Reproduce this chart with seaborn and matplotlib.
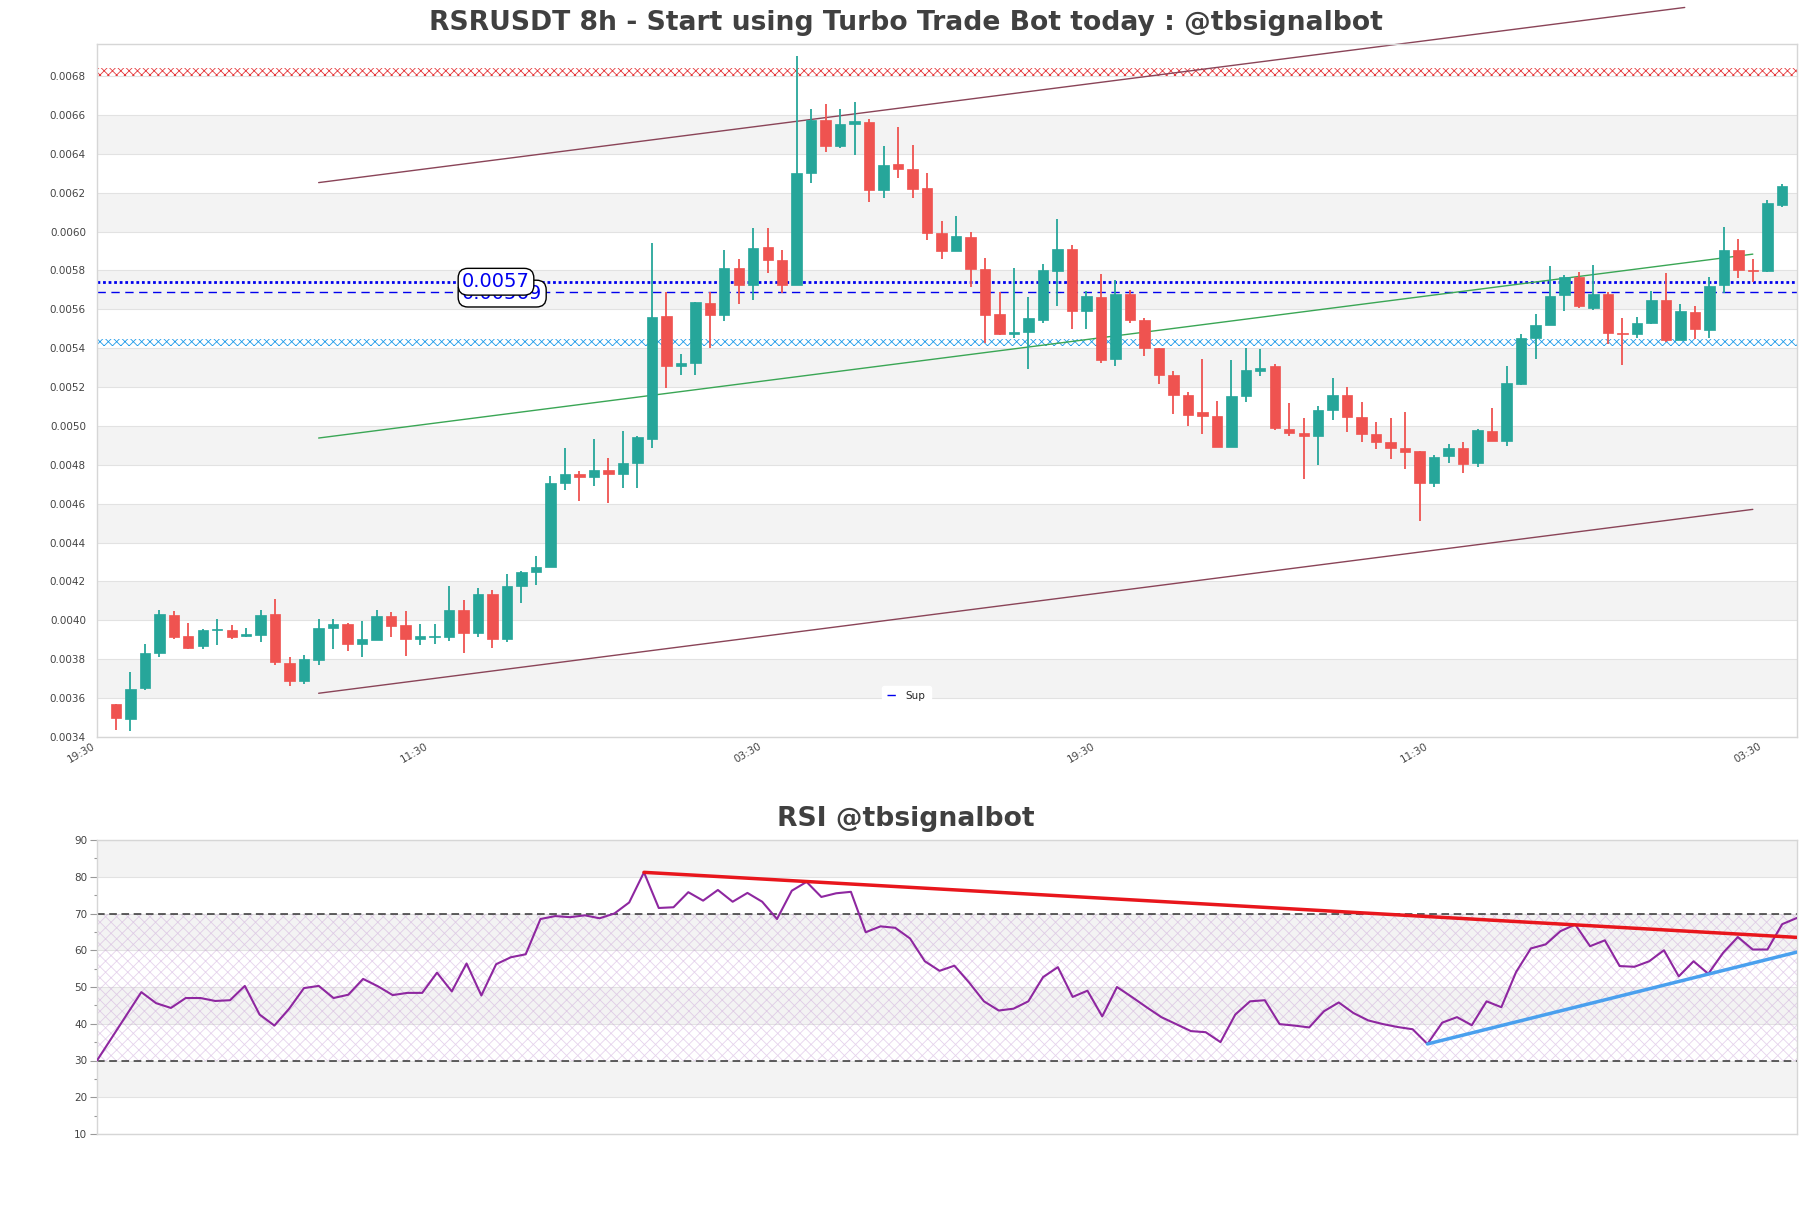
import numpy as np
import pandas as pd
import matplotlib
matplotlib.use("Agg")
import matplotlib.pyplot as plt
import seaborn as sns

# ---------------- data ----------------
opens = [0.003568, 0.003492, 0.003653, 0.003832, 0.004027, 0.003921, 0.003866, 0.003950, 0.003951, 0.003919,
         0.003924, 0.004034, 0.003783, 0.003687, 0.003795, 0.003960, 0.003979, 0.003878, 0.003898, 0.004025,
         0.003974, 0.003905, 0.003914, 0.003917, 0.004052, 0.003933, 0.004135, 0.003905, 0.004176, 0.004250,
         0.004272, 0.004709, 0.004755, 0.004736, 0.004771, 0.004755, 0.004812, 0.004931, 0.005567, 0.005310,
         0.005324, 0.005634, 0.005570, 0.005815, 0.005724, 0.005921, 0.005852, 0.005724, 0.006300, 0.006575,
         0.006442, 0.006555, 0.006564, 0.006213, 0.006348, 0.006323, 0.006224, 0.005995, 0.005898, 0.005972,
         0.005806, 0.005577, 0.005471, 0.005483, 0.005547, 0.005797, 0.005912, 0.005591, 0.005666, 0.005347,
         0.005680, 0.005547, 0.005402, 0.005260, 0.005157, 0.005072, 0.005049, 0.004893, 0.005152, 0.005283,
         0.005306, 0.004984, 0.004966, 0.004948, 0.005081, 0.005161, 0.005046, 0.004961, 0.004920, 0.004888,
         0.004870, 0.004709, 0.004846, 0.004888, 0.004807, 0.004973, 0.004922, 0.005218, 0.005453, 0.005519,
         0.005673, 0.005765, 0.005609, 0.005678, 0.005480, 0.005471, 0.005531, 0.005646, 0.005443, 0.005588,
         0.005494, 0.005724, 0.005903, 0.005804, 0.005797, 0.006139]
highs = [0.003572, 0.003733, 0.003878, 0.004054, 0.004047, 0.003985, 0.003956, 0.004006, 0.003974, 0.003963,
         0.004054, 0.004112, 0.003809, 0.003820, 0.004006, 0.004006, 0.003985, 0.003997, 0.004054, 0.004043,
         0.004047, 0.003983, 0.003979, 0.004176, 0.004105, 0.004169, 0.004158, 0.004236, 0.004254, 0.004330,
         0.004743, 0.004888, 0.004766, 0.004934, 0.004835, 0.004973, 0.004950, 0.005942, 0.005691, 0.005368,
         0.005639, 0.005689, 0.005903, 0.005861, 0.006018, 0.006018, 0.005903, 0.006901, 0.006633, 0.006654,
         0.006633, 0.006665, 0.006580, 0.006438, 0.006538, 0.006447, 0.006302, 0.006057, 0.006080, 0.005999,
         0.005864, 0.005689, 0.005815, 0.005662, 0.005834, 0.006063, 0.005930, 0.005696, 0.005783, 0.005753,
         0.005701, 0.005554, 0.005402, 0.005283, 0.005173, 0.005347, 0.005131, 0.005338, 0.005402, 0.005398,
         0.005317, 0.005117, 0.005042, 0.005104, 0.005248, 0.005198, 0.005122, 0.005023, 0.005042, 0.005072,
         0.004870, 0.004853, 0.004908, 0.004915, 0.004984, 0.005095, 0.005306, 0.005473, 0.005577, 0.005822,
         0.005776, 0.005792, 0.005829, 0.005689, 0.005558, 0.005563, 0.005696, 0.005788, 0.005627, 0.005616,
         0.005765, 0.006022, 0.005960, 0.005861, 0.006160, 0.006247]
lows = [0.003434, 0.003430, 0.003641, 0.003809, 0.003905, 0.003855, 0.003855, 0.003873, 0.003905, 0.003912,
        0.003889, 0.003772, 0.003664, 0.003671, 0.003772, 0.003855, 0.003841, 0.003813, 0.003898, 0.003917,
        0.003818, 0.003871, 0.003878, 0.003894, 0.003832, 0.003917, 0.003859, 0.003889, 0.004089, 0.004181,
        0.004272, 0.004670, 0.004612, 0.004690, 0.004603, 0.004679, 0.004679, 0.004888, 0.005196, 0.005264,
        0.005264, 0.005402, 0.005540, 0.005627, 0.005650, 0.005788, 0.005685, 0.005724, 0.006252, 0.006408,
        0.006431, 0.006396, 0.006151, 0.006174, 0.006275, 0.006174, 0.005958, 0.005857, 0.005898, 0.005714,
        0.005425, 0.005467, 0.005455, 0.005294, 0.005528, 0.005616, 0.005500, 0.005500, 0.005322, 0.005306,
        0.005530, 0.005359, 0.005218, 0.005062, 0.005000, 0.004957, 0.004893, 0.004893, 0.005122, 0.005255,
        0.004977, 0.004948, 0.004727, 0.004801, 0.005030, 0.004968, 0.004915, 0.004881, 0.004828, 0.004778,
        0.004509, 0.004686, 0.004807, 0.004759, 0.004789, 0.004922, 0.004897, 0.005209, 0.005345, 0.005519,
        0.005593, 0.005609, 0.005597, 0.005420, 0.005313, 0.005455, 0.005524, 0.005432, 0.005443, 0.005448,
        0.005455, 0.005685, 0.005761, 0.005742, 0.005792, 0.006125]
closes = [0.003496, 0.003648, 0.003832, 0.004034, 0.003917, 0.003859, 0.003951, 0.003952, 0.003917, 0.003928,
          0.004027, 0.003786, 0.003687, 0.003802, 0.003960, 0.003979, 0.003878, 0.003905, 0.004025, 0.003969,
          0.003905, 0.003921, 0.003921, 0.004052, 0.003935, 0.004135, 0.003905, 0.004176, 0.004250, 0.004272,
          0.004709, 0.004755, 0.004739, 0.004771, 0.004755, 0.004812, 0.004945, 0.005563, 0.005306, 0.005324,
          0.005639, 0.005570, 0.005815, 0.005724, 0.005917, 0.005852, 0.005724, 0.006302, 0.006575, 0.006442,
          0.006552, 0.006568, 0.006213, 0.006344, 0.006321, 0.006220, 0.005995, 0.005898, 0.005978, 0.005806,
          0.005570, 0.005471, 0.005485, 0.005556, 0.005804, 0.005912, 0.005591, 0.005668, 0.005338, 0.005677,
          0.005547, 0.005402, 0.005264, 0.005157, 0.005058, 0.005049, 0.004893, 0.005152, 0.005287, 0.005299,
          0.004989, 0.004966, 0.004948, 0.005081, 0.005161, 0.005046, 0.004957, 0.004920, 0.004886, 0.004865,
          0.004709, 0.004842, 0.004888, 0.004805, 0.004977, 0.004922, 0.005223, 0.005455, 0.005522, 0.005668,
          0.005765, 0.005616, 0.005678, 0.005478, 0.005471, 0.005531, 0.005646, 0.005443, 0.005593, 0.005501,
          0.005719, 0.005903, 0.005800, 0.005797, 0.006146, 0.006236]

rsi_values = [30.0, 36.2, 42.4, 48.6, 45.6, 44.3, 47.0, 47.0, 46.2, 46.4,
              50.3, 42.5, 39.5, 44.1, 49.7, 50.3, 47.0, 47.9, 52.2, 50.2,
              47.8, 48.4, 48.4, 53.9, 48.8, 56.4, 47.7, 56.2, 58.1, 58.9,
              68.5, 69.3, 69.0, 69.5, 68.7, 70.0, 73.0, 81.2, 71.5, 71.7,
              75.8, 73.5, 76.4, 73.2, 75.6, 73.2, 68.5, 76.2, 78.6, 74.5,
              75.5, 75.9, 64.9, 66.5, 66.1, 63.2, 57.0, 54.4, 55.8, 51.2,
              46.1, 43.6, 44.1, 46.1, 52.7, 55.4, 47.3, 49.0, 42.0, 50.0,
              47.3, 44.5, 41.8, 39.9, 38.0, 37.7, 35.0, 42.5, 46.1, 46.4,
              39.9, 39.5, 39.0, 43.4, 45.8, 42.9, 40.9, 39.9, 39.1, 38.5,
              34.5, 40.3, 41.8, 39.6, 46.1, 44.5, 54.1, 60.5, 61.6, 65.2,
              67.0, 61.1, 62.7, 55.7, 55.5, 57.0, 60.0, 52.9, 57.0, 53.6,
              59.3, 63.6, 60.2, 60.2, 67.1, 68.8]

x_tick_labels = ["19:30", "11:30", "03:30", "19:30", "11:30", "03:30"]

# channel lines (index range and prices)
channel_x = [14, 113]
channel_upper_x = [14, 108.3]
channel_upper = [0.006252, 0.007153]
channel_mid = [0.004938, 0.005884]
channel_lower = [0.003625, 0.004571]

res_zone = [0.00680, 0.00684]
sup_zone = [0.00541, 0.00545]
level_dotted = 0.005742
level_dashed = 0.005691
level_dotted_label = "0.0057"
level_dashed_label = "0.00569"

rsi_res_x = [37, 115]
rsi_res_y = [81.2, 63.5]
rsi_sup_x = [90, 115]
rsi_sup_y = [34.5, 59.5]

title_main = "RSRUSDT 8h - Start using Turbo Trade Bot today : @tbsignalbot"
title_rsi = "RSI @tbsignalbot"

# ---------------- style ----------------
sns.set_theme(style="white")
plt.rcParams["font.family"] = ["DejaVu Sans"]
plt.rcParams["hatch.linewidth"] = 0.6

df = pd.DataFrame({"o": opens, "h": highs, "l": lows, "c": closes})
df["x"] = np.arange(len(df))
up = df["c"] >= df["o"]
GREEN, RED = "#26a69a", "#ef5350"
colors = np.where(up, GREEN, RED)

W, H = 1811, 1208
fig = plt.figure(figsize=(W / 100, H / 100), dpi=100)
ax = fig.add_axes([97 / W, 1 - 737 / H, 1700 / W, 693 / H])
ax2 = fig.add_axes([97 / W, 1 - 1134 / H, 1700 / W, 294 / H])

TXT = "#444444"
SPINE = "#d6d6d6"
BAND = "#f3f3f3"

# ---------- main price axes ----------
ax.set_xlim(-0.95, len(df) + 0.05)
ax.set_ylim(0.0034, 0.006965)
for v in np.arange(0.0036, 0.0068, 0.0004):
    ax.axhspan(v, v + 0.0002, color=BAND, zorder=0, lw=0)
yt = np.round(np.arange(0.0034, 0.00681, 0.0002), 4)
ax.set_yticks(yt)
ax.set_yticklabels([f"{v:.4f}" for v in yt])
ax.grid(axis="y", color="#e2e2e2", lw=0.8, zorder=0.5)
ax.set_axisbelow(True)

# candles
ax.vlines(df["x"], df["l"], df["h"], colors=colors, lw=1.3, zorder=3)
body = (df["c"] - df["o"]).abs().clip(lower=0.000007)
ax.bar(df["x"], body, bottom=df[["o", "c"]].min(axis=1), width=0.72,
       color=colors, edgecolor=colors, lw=0.5, zorder=4)

# zones
ax.axhspan(res_zone[0], res_zone[1], facecolor="none", edgecolor="#e5383b",
           hatch="xxxx", lw=0, zorder=2)
ax.axhspan(sup_zone[0], sup_zone[1], facecolor="none", edgecolor="#1e9be9",
           hatch="xxxx", lw=0, zorder=2)

# levels
ax.axhline(level_dotted, color="#0000ee", ls=(0, (1, 1)), lw=2.0, zorder=2)
ax.axhline(level_dashed, color="#0000ee", ls=(0, (6, 4)), lw=1.0, zorder=2, label="Sup")
bbox = dict(boxstyle="round,pad=0.2,rounding_size=0.5", fc="white", ec="black", lw=1)
ax.text(23.9, level_dashed - 0.00001, level_dashed_label, color="#0000ee", fontsize=14,
        ha="left", va="center", bbox=bbox, zorder=6)
ax.text(23.9, level_dotted, level_dotted_label, color="#0000ee", fontsize=14,
        ha="left", va="center", bbox=bbox, zorder=7)

# channel
ax.plot(channel_upper_x, channel_upper, color="#8a4458", lw=1.0, zorder=2.5, clip_on=False)
ax.plot(channel_x, channel_lower, color="#8a4458", lw=1.0, zorder=2.5)
ax.plot(channel_x, channel_mid, color="#3aa655", lw=1.0, zorder=2.5)

ax.set_xticks(np.arange(len(x_tick_labels)) * 23 - 1.3)
ax.set_xticklabels(x_tick_labels, rotation=30, ha="right")
ax.tick_params(axis="both", labelsize=7.5, labelcolor=TXT, length=0)
ax.tick_params(axis="y", pad=8)
ax.tick_params(axis="x", pad=3)
for s in ax.spines.values():
    s.set_color(SPINE)
    s.set_linewidth(1)
leg = ax.legend(loc="center", bbox_to_anchor=(0.476, 0.059), fontsize=7.5,
                frameon=True, framealpha=1, edgecolor="white", handlelength=1.0,
                borderpad=0.5)

# ---------- RSI axes ----------
rsi_df = pd.DataFrame({"x": np.arange(len(rsi_values)), "rsi": rsi_values})
ax2.set_xlim(0, len(rsi_values) - 1)
ax2.set_ylim(10, 90)
for v in [20, 40, 60, 80]:
    ax2.axhspan(v, v + 10, color=BAND, zorder=0, lw=0)
ax2.grid(axis="y", color="#e2e2e2", lw=0.8, zorder=0.5)
ax2.set_axisbelow(True)
ax2.axhspan(30, 70, facecolor="none", edgecolor=(0.78, 0.62, 0.84, 0.45),
            hatch="xxx", lw=0, zorder=1)
ax2.axhline(70, color="#333333", ls=(0, (5, 3)), lw=1.1, zorder=2)
ax2.axhline(30, color="#333333", ls=(0, (5, 3)), lw=1.1, zorder=2)
sns.lineplot(data=rsi_df, x="x", y="rsi", ax=ax2, color="#8e27a0", lw=1.5, zorder=3)
ax2.plot(rsi_res_x, rsi_res_y, color="#e8161c", lw=2.5, zorder=4)
ax2.plot(rsi_sup_x, rsi_sup_y, color="#4aa0ee", lw=2.5, zorder=4)
ax2.set_yticks(np.arange(10, 91, 10))
ax2.set_yticks(np.arange(15, 90, 10), minor=True)
ax2.set_xticks([])
ax2.set_xlabel("")
ax2.set_ylabel("")
ax2.tick_params(axis="y", which="major", labelsize=7.5, labelcolor=TXT, length=5,
                color="#999999", width=0.8, pad=2, left=True)
ax2.tick_params(axis="y", which="minor", length=2.5, color="#999999", width=0.8, left=True)
for s in ax2.spines.values():
    s.set_color(SPINE)
    s.set_linewidth(1)

# titles
fig.text(0.5, 1 - 23 / H, title_main, ha="center", va="center", fontsize=19.2,
         fontweight="bold", color="#404040")
fig.text(0.5, 1 - 819 / H, title_rsi, ha="center", va="center", fontsize=19.2,
         fontweight="bold", color="#404040")

fig.savefig("out.png", dpi=100)
